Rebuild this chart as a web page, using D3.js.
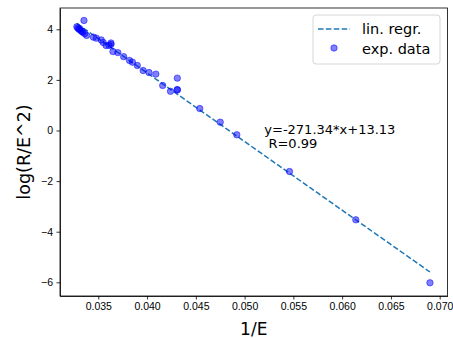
<!DOCTYPE html>
<html lang="en">
<head>
    <meta charset="UTF-8">
    <title>log(R/E^2) vs 1/E</title>
    <script src="https://d3js.org/d3.v7.min.js"></script>
    <style>
        body { margin: 0; background: #fff; }
        svg { display: block; font-family: "DejaVu Sans", sans-serif; }
        .axis text { font-size: 10.5px; fill: #000; }
        .axis path, .axis line { stroke: #000; stroke-width: 0.8; }
    </style>
</head>
<body>
    <svg width="453" height="338"></svg>
    <script>
        // Data
        const invE = [0.0328, 0.0329, 0.0330, 0.0331, 0.0332, 0.0333, 0.0334, 0.03353, 0.0336, 0.0338,
                      0.0345, 0.0348, 0.0353, 0.0355, 0.0358, 0.0361, 0.0363, 0.0363, 0.0365, 0.0370,
                      0.0376, 0.0382, 0.0385, 0.0390, 0.0396, 0.0402, 0.0409, 0.0416, 0.0424, 0.0431,
                      0.0431, 0.0431, 0.0454, 0.0475, 0.0492, 0.0546, 0.0614, 0.0690];
        const logRE2 = [4.10, 4.05, 4.00, 4.02, 3.95, 3.92, 3.88, 4.35, 3.83, 3.76,
                        3.69, 3.65, 3.58, 3.48, 3.36, 3.36, 3.46, 3.40, 3.12, 3.08,
                        2.92, 2.77, 2.70, 2.57, 2.37, 2.29, 2.23, 1.78, 1.55, 1.60,
                        1.62, 2.07, 0.87, 0.33, -0.17, -1.62, -3.53, -6.02];
        const slope = -271.34, intercept = 13.13;
        const xTicks = [0.035, 0.040, 0.045, 0.050, 0.055, 0.060, 0.065, 0.070];
        const yTicks = [-6, -4, -2, 0, 2, 4];
        const legendLabels = ["lin. regr.", "exp. data"];

        const margin = {top: 8, right: 5.5, bottom: 42, left: 60},
              width = 453 - margin.left - margin.right,
              height = 338 - margin.top - margin.bottom;

        const svg = d3.select("svg");
        const g = svg.append("g")
            .attr("transform", `translate(${margin.left},${margin.top})`);

        const x = d3.scaleLinear().domain([0.031073, 0.0708]).range([0, width]);
        const y = d3.scaleLinear().domain([-6.541, 4.842]).range([height, 0]);

        // regression line over the data range
        const xr = d3.extent(invE);
        g.append("line")
            .attr("x1", x(xr[0])).attr("y1", y(slope * xr[0] + intercept))
            .attr("x2", x(xr[1])).attr("y2", y(slope * xr[1] + intercept))
            .attr("stroke", "#1f77b4")
            .attr("stroke-width", 1.5)
            .attr("stroke-dasharray", "5.5,2.4");

        // points
        g.selectAll("circle.pt")
            .data(invE.map((v, i) => [v, logRE2[i]]))
            .enter().append("circle")
            .attr("class", "pt")
            .attr("cx", d => x(d[0]))
            .attr("cy", d => y(d[1]))
            .attr("r", 3.2)
            .attr("fill", "blue").attr("fill-opacity", 0.5)
            .attr("stroke", "blue").attr("stroke-opacity", 0.5).attr("stroke-width", 1);

        // axes
        g.append("g").attr("class", "axis")
            .attr("transform", `translate(0,${height})`)
            .call(d3.axisBottom(x).tickValues(xTicks).tickFormat(d3.format(".3f"))
                .tickSize(3.5).tickPadding(3.5).tickSizeOuter(0));
        g.append("g").attr("class", "axis")
            .call(d3.axisLeft(y).tickValues(yTicks).tickFormat(d3.format("d"))
                .tickSize(3.5).tickPadding(3.5).tickSizeOuter(0));
        g.append("rect")
            .attr("width", width).attr("height", height)
            .attr("fill", "none").attr("stroke", "#000").attr("stroke-width", 0.8);

        // axis labels
        svg.append("text")
            .attr("x", margin.left + width / 2).attr("y", 335)
            .attr("text-anchor", "middle").attr("font-size", 17)
            .text("1/E");
        svg.append("text")
            .attr("transform", `translate(30,${margin.top + height / 2}) rotate(-90)`)
            .attr("text-anchor", "middle").attr("font-size", 17.5)
            .text("log(R/E^2)");

        // annotation
        const ann = svg.append("text").attr("font-size", 13).attr("x", 264.3);
        ann.append("tspan").attr("x", 264.3).attr("y", 133.5)
            .text(`y=${slope}*x+${intercept}`);
        ann.append("tspan").attr("x", 264.3).attr("y", 148)
            .text("\u00a0R=0.99");

        // legend
        const lg = svg.append("g").attr("transform", "translate(313,15)");
        lg.append("rect")
            .attr("width", 127).attr("height", 49).attr("rx", 3)
            .attr("fill", "#fff").attr("fill-opacity", 0.8)
            .attr("stroke", "#ccc").attr("stroke-width", 0.8);
        lg.append("line")
            .attr("x1", 5).attr("x2", 37).attr("y1", 14).attr("y2", 14)
            .attr("stroke", "#1f77b4").attr("stroke-width", 1.5)
            .attr("stroke-dasharray", "5.5,2.4");
        lg.append("circle")
            .attr("cx", 21).attr("cy", 33).attr("r", 3.2)
            .attr("fill", "blue").attr("fill-opacity", 0.5)
            .attr("stroke", "blue").attr("stroke-opacity", 0.5);
        lg.selectAll("text.lt")
            .data(legendLabels)
            .enter().append("text")
            .attr("class", "lt")
            .attr("x", 49)
            .attr("y", (d, i) => 18.5 + i * 20)
            .attr("font-size", 14.5)
            .text(d => d);
    </script>
</body>
</html>
